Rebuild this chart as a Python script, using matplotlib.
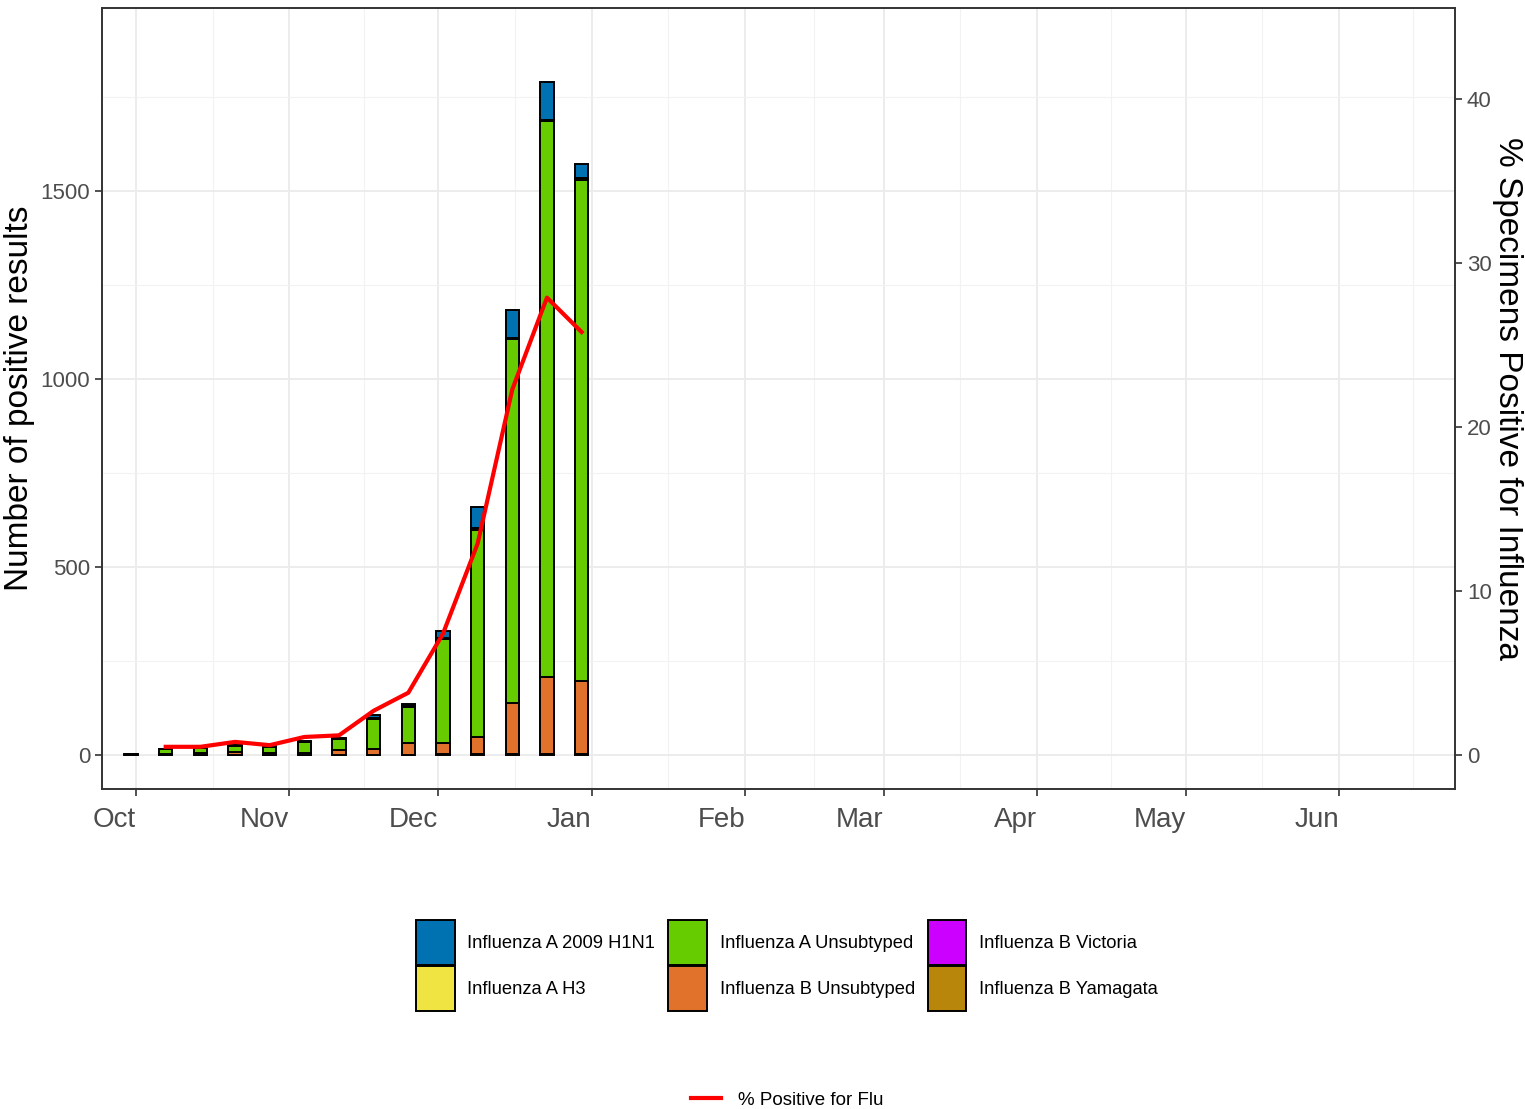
import matplotlib
matplotlib.use("Agg")
import matplotlib.pyplot as plt
import matplotlib.dates as mdates
from matplotlib.patches import Patch
from matplotlib.lines import Line2D
import numpy as np
import datetime as dt

plt.rcParams['font.family'] = ['Liberation Sans', 'DejaVu Sans']

# weekly data (week start dates)
weeks = ["2018-09-30", "2018-10-07", "2018-10-14", "2018-10-21", "2018-10-28",
         "2018-11-04", "2018-11-11", "2018-11-18", "2018-11-25", "2018-12-02",
         "2018-12-09", "2018-12-16", "2018-12-23", "2018-12-30"]

# counts by subtype, bottom of the stack first
b_yamagata = [0, 1, 1, 0, 0, 1, 1, 1, 1, 2, 2, 2, 2, 2]
b_victoria = [0, 0, 0, 0, 0, 0, 0, 0, 0, 0, 1, 1, 1, 1]
b_unsub    = [1, 2, 4, 7, 5, 5, 11, 14, 31, 31, 45, 135, 205, 194]
a_unsub    = [2, 12, 13, 17, 16, 28, 30, 82, 96, 275, 550, 968, 1477, 1332]
a_h3       = [0, 1, 1, 1, 1, 0, 0, 2, 2, 3, 6, 4, 4, 5]
a_h1n1     = [0, 1, 2, 2, 2, 3, 3, 8, 5, 20, 56, 74, 102, 38]

pct_pos = [np.nan, 0.5, 0.5, 0.8, 0.6, 1.1, 1.2, 2.7, 3.8, 7.4, 12.9, 22.3, 27.9, 25.8]

series = [
    ("Influenza B Yamagata", b_yamagata, "#B8860B"),
    ("Influenza B Victoria", b_victoria, "#CC00FF"),
    ("Influenza B Unsubtyped", b_unsub, "#E0722C"),
    ("Influenza A Unsubtyped", a_unsub, "#66CC00"),
    ("Influenza A H3", a_h3, "#F0E442"),
    ("Influenza A 2009 H1N1", a_h1n1, "#0072B2"),
]
legend_order = ["Influenza A 2009 H1N1", "Influenza A H3", "Influenza A Unsubtyped",
                "Influenza B Unsubtyped", "Influenza B Victoria", "Influenza B Yamagata"]

dates = [dt.datetime.strptime(d, "%Y-%m-%d") for d in weeks]
x = mdates.date2num(dates)

fig = plt.figure(figsize=(15.25, 11.09), dpi=100)
ax = fig.add_axes([102/1525, 1-789/1109, (1455-102)/1525, (789-8)/1109])

bottom = np.zeros(len(x))
colors = {}
for name, vals, col in series:
    vals = np.array(vals, dtype=float)
    ax.bar(x, vals, width=2.7, bottom=bottom, color=col, edgecolor="black",
           linewidth=1.4, zorder=3)
    bottom += vals
    colors[name] = col

start = mdates.date2num(dt.datetime(2018, 10, 1))
ax.set_xlim(start - 6.87, start + 266.4)
ax.set_ylim(-90.4, 1986.7)

months = [dt.datetime(2018, 10, 1), dt.datetime(2018, 11, 1), dt.datetime(2018, 12, 1),
          dt.datetime(2019, 1, 1), dt.datetime(2019, 2, 1), dt.datetime(2019, 3, 1),
          dt.datetime(2019, 4, 1), dt.datetime(2019, 5, 1), dt.datetime(2019, 6, 1),
          dt.datetime(2019, 7, 1)]
mnum = mdates.date2num(months)
ax.set_xticks(mnum[:-1])
ax.set_xticklabels([m.strftime("%b") for m in months[:-1]], ha="right")
ax.set_xticks((mnum[:-1] + mnum[1:]) / 2, minor=True)
ax.set_yticks([0, 500, 1000, 1500])
ax.set_yticks([250, 750, 1250, 1750], minor=True)

ax.grid(True, which="major", color="#EBEBEB", linewidth=1.3, zorder=0)
ax.grid(True, which="minor", color="#F2F2F2", linewidth=0.8, zorder=0)
ax.set_axisbelow(True)
ax.tick_params(axis="x", which="major", labelsize=20, colors="#333333",
               labelcolor="#4D4D4D", length=5, width=1.2, pad=8)
ax.tick_params(axis="y", which="major", labelsize=16, colors="#333333",
               labelcolor="#4D4D4D", length=5, width=1.2)
ax.tick_params(which="minor", length=0)
for s in ax.spines.values():
    s.set_color("#333333")
    s.set_linewidth(1.2)
ax.set_ylabel("Number of positive results", fontsize=24, va="center", ha="center")
ax.yaxis.set_label_coords(-0.061, 0.5)

ax2 = ax.twinx()
ax2.plot(x, pct_pos, color="#FF0000", linewidth=3, zorder=5)
ax2.set_ylim(-90.4/43.6, 1986.7/43.6)
ax2.set_yticks([0, 10, 20, 30, 40])
ax2.tick_params(axis="y", labelsize=16, colors="#333333", labelcolor="#4D4D4D",
                length=5, width=1.2)
for s in ax2.spines.values():
    s.set_color("#333333")
    s.set_linewidth(1.2)
ax2.set_ylabel("% Specimens Positive for Influenza", fontsize=24, rotation=270,
               va="center", ha="center")
ax2.yaxis.set_label_coords(1.039, 0.5)

handles = [Patch(facecolor=colors[n], edgecolor="black", linewidth=1.4, label=n)
           for n in legend_order]
fig.legend(handles=handles, ncol=3, loc="center", bbox_to_anchor=(0.516, 0.129),
           frameon=False, fontsize=13.2, handlelength=2.1, handleheight=3.4,
           labelspacing=0.05, columnspacing=0.7, handletextpad=0.7)

line_handle = [Line2D([0], [0], color="#FF0000", linewidth=3, label="% Positive for Flu")]
fig.legend(handles=line_handle, loc="center", bbox_to_anchor=(0.516, 0.008),
           frameon=False, fontsize=13.5, handlelength=1.6, handletextpad=0.9)

fig.savefig("out.png", dpi=100)
